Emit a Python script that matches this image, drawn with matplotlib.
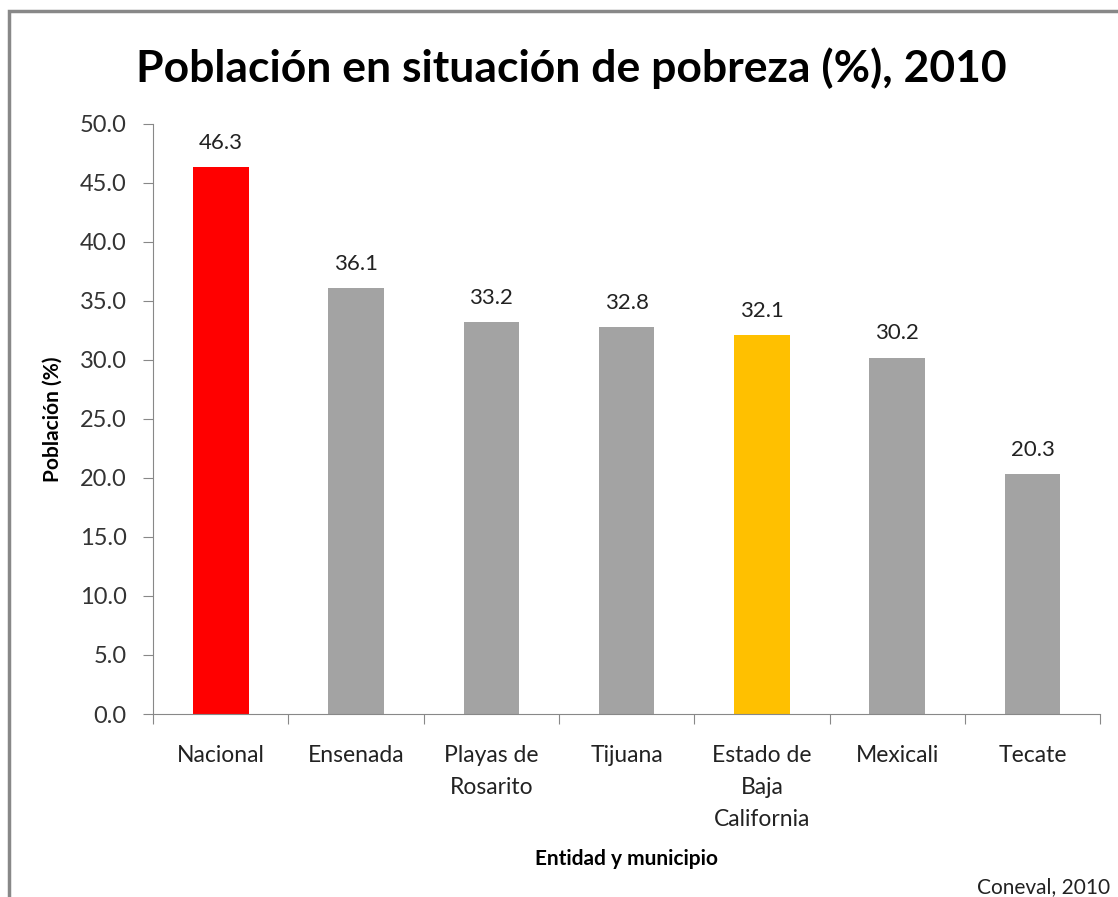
import matplotlib.pyplot as plt
from matplotlib.patches import Rectangle

# Data
categories = ['Nacional', 'Ensenada', 'Playas de\nRosarito', 'Tijuana',
              'Estado de\nBaja\nCalifornia', 'Mexicali', 'Tecate']
values = [46.3, 36.1, 33.2, 32.8, 32.1, 30.2, 20.3]
colors = ['#FF0000', '#A3A3A3', '#A3A3A3', '#A3A3A3', '#FFC000', '#A3A3A3', '#A3A3A3']
yticks = [0, 5, 10, 15, 20, 25, 30, 35, 40, 45, 50]

plt.rcParams['font.family'] = ['Lato', 'DejaVu Sans']

fig = plt.figure(figsize=(11.18, 8.97), dpi=100)
ax = fig.add_axes([0.137, 0.204, 0.847, 0.658])

x = range(len(categories))
bars = ax.bar(x, values, width=0.41, color=colors)

for xi, v in zip(x, values):
    ax.text(xi, v + 1.2, f'{v:.1f}', ha='center', va='bottom', fontsize=16, color='#222222')

ax.set_xlim(-0.5, len(categories) - 0.5)
ax.set_ylim(0, 50)
ax.set_yticks(yticks)
ax.set_yticklabels([f'{t:.1f}' for t in yticks], fontsize=17, color='#333333')

# category labels centered, ticks at boundaries
ax.set_xticks([i - 0.5 for i in range(len(categories) + 1)])
ax.set_xticklabels([])
ax.set_xticks(list(x), minor=True)
ax.set_xticklabels(categories, minor=True, fontsize=16.5, color='#222222', linespacing=1.65)
ax.tick_params(axis='x', which='minor', length=0, pad=22)
ax.tick_params(axis='x', which='major', length=7, color='#888888', direction='out')
ax.tick_params(axis='y', length=7, color='#888888', direction='out', pad=12)

ax.spines['top'].set_visible(False)
ax.spines['right'].set_visible(False)
ax.spines['left'].set_color('#888888')
ax.spines['bottom'].set_color('#888888')

ax.set_ylabel('Población (%)', fontsize=15, fontweight='bold', labelpad=12)
ax.set_xlabel('Entidad y municipio', fontsize=15, fontweight='bold', labelpad=14)

fig.text(0.511, 0.924, 'Población en situación de pobreza (%), 2010',
         ha='center', va='center', fontsize=32, fontweight='bold')
fig.text(0.993, 0.0, 'Coneval, 2010', ha='right', va='bottom', fontsize=15, color='#222222')

# outer frame
fig.add_artist(Rectangle((0.008, -0.02), 1.05, 1.008, transform=fig.transFigure,
                         fill=False, edgecolor='#888888', linewidth=2.5))

plt.savefig('out.png', dpi=100)
